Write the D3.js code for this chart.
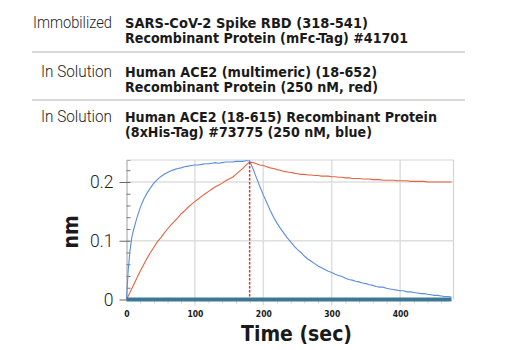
<!DOCTYPE html>
<html><head><meta charset="utf-8">
<script src="https://cdn.jsdelivr.net/npm/d3@7"></script>
<style>
html,body{margin:0;padding:0;background:#fff;}
svg{display:block;}
.lt{font-family:Roboto,"Liberation Sans",sans-serif;font-weight:300;fill:#1e1e1e;}
.bd{font-family:"Liberation Sans Narrow","DejaVu Sans Condensed","Roboto",sans-serif;font-weight:bold;fill:#1a1a1a;}
</style></head>
<body>
<script>
// ---------- data ----------
const headerLabels = ["Immobilized", "In Solution", "In Solution"];
const headerLines = [
  ["SARS-CoV-2 Spike RBD (318-541)", "Recombinant Protein (mFc-Tag) #41701"],
  ["Human ACE2 (multimeric) (18-652)", "Recombinant Protein (250 nM, red)"],
  ["Human ACE2 (18-615) Recombinant Protein", "(8xHis-Tag) #73775 (250 nM, blue)"]
];
const xTicks = [0, 100, 200, 300, 400];
const yTicks = [0, 0.1, 0.2];
const yTickLabels = ["0", "0.1", "0.2"];
const xLabel = "Time (sec)";
const yLabel = "nm";
const switchTime = 180;

const time = [0,2.5,5,7.5,10,15,20,25,30,35,40,45,50,55,60,65,70,75,80,85,90,95,100,105,110,115,120,125,130,135,140,145,150,155,160,165,170,175,180,
  185,190,195,200,205,210,215,220,225,230,235,240,245,250,255,260,265,270,275,280,285,290,295,300,305,310,315,320,325,330,335,340,345,350,355,360,365,370,375,380,385,390,395,400,405,410,415,420,425,430,435,440,445,450,455,460,465,470,475];

const blue = [0,0.050,0.082,0.104,0.117,0.138,0.156,0.170,0.181,0.190,0.198,0.204,0.209,0.213,0.216,0.219,0.221,0.223,0.224,0.226,0.227,0.228,0.229,0.229,0.230,0.231,0.231,0.232,0.233,0.232,0.233,0.234,0.234,0.234,0.235,0.235,0.235,0.236,0.236,
  0.222,0.207,0.192,0.178,0.165,0.152,0.140,0.130,0.121,0.113,0.105,0.098,0.091,0.085,0.080,0.074,0.069,0.065,0.061,0.057,0.054,0.051,0.048,0.046,0.043,0.041,0.039,0.036,0.034,0.033,0.031,0.030,0.028,0.027,0.025,0.024,0.022,0.021,0.021,0.019,0.018,0.017,0.016,0.015,0.015,0.013,0.013,0.012,0.011,0.010,0.010,0.009,0.008,0.007,0.007,0.006,0.005,0.005,0.004];

const red = [0,0.006,0.012,0.018,0.024,0.036,0.048,0.059,0.070,0.080,0.089,0.098,0.105,0.113,0.120,0.127,0.133,0.139,0.146,0.151,0.157,0.162,0.167,0.171,0.176,0.180,0.184,0.188,0.192,0.195,0.198,0.202,0.205,0.208,0.213,0.218,0.223,0.229,0.234,
  0.233,0.231,0.229,0.228,0.226,0.224,0.223,0.221,0.220,0.218,0.217,0.216,0.215,0.214,0.213,0.213,0.212,0.212,0.211,0.211,0.210,0.210,0.210,0.209,0.209,0.208,0.208,0.207,0.207,0.206,0.206,0.206,0.205,0.205,0.205,0.204,0.204,0.204,0.203,0.203,0.203,0.203,0.202,0.202,0.202,0.202,0.201,0.201,0.201,0.201,0.201,0.200,0.200,0.200,0.200,0.200,0.200,0.200,0.200];

const reference = time.map(() => 0);

// ---------- layout ----------
const W = 520, H = 350;
const svg = d3.select("body").append("svg").attr("width", W).attr("height", H);

const x = d3.scaleLinear().domain([0, 478]).range([126.5, 453.5]);
const y = d3.scaleLinear().domain([0, 0.2374]).range([299.5, 160]);

// ---------- header ----------
const rowBase = [28.3, 76.5, 122];
const labelW = [79, 71, 71];
const lineW = [[243, 283], [252, 253], [312, 247]];
headerLabels.forEach((lab, i) => {
  svg.append("text").attr("class", "lt").attr("x", 112).attr("y", rowBase[i])
    .attr("text-anchor", "end").style("font-size", "17px")
    .attr("textLength", labelW[i]).attr("lengthAdjust", "spacingAndGlyphs").text(lab);
  headerLines[i].forEach((ln, j) => {
    svg.append("text").attr("class", "bd").attr("x", 125).attr("y", rowBase[i] + j * 15)
      .style("font-size", "13.8px")
      .attr("textLength", lineW[i][j]).attr("lengthAdjust", "spacingAndGlyphs").text(ln);
  });
});
[52, 100].forEach(yy => {
  svg.append("line").attr("x1", 32).attr("x2", 465).attr("y1", yy).attr("y2", yy)
    .attr("stroke", "#b4b4b4").attr("stroke-width", 1.2);
});

// ---------- grid ----------
const g = svg.append("g");
g.selectAll(".vg").data(xTicks.filter(d => d > 0)).enter().append("line")
  .attr("x1", d => x(d)).attr("x2", d => x(d)).attr("y1", y.range()[1]).attr("y2", y(0) + 6)
  .attr("stroke", "#dedede").attr("stroke-width", 1.5);
g.selectAll(".hg").data(yTicks.filter(d => d > 0)).enter().append("line")
  .attr("x1", x(0)).attr("x2", x.range()[1]).attr("y1", d => y(d)).attr("y2", d => y(d))
  .attr("stroke", "#dedede").attr("stroke-width", 1.5);
// frame top/right
g.append("line").attr("x1", x(0)).attr("x2", x.range()[1]).attr("y1", y.range()[1]).attr("y2", y.range()[1])
  .attr("stroke", "#d4d4d4").attr("stroke-width", 1.2);
g.append("line").attr("x1", x.range()[1]).attr("x2", x.range()[1]).attr("y1", y.range()[1]).attr("y2", y(0))
  .attr("stroke", "#d4d4d4").attr("stroke-width", 1.2);

// ---------- axes ----------
const yMinor = d3.range(0.02, 0.235, 0.02).filter(v => Math.abs(v - 0.1) > 1e-6 && Math.abs(v - 0.2) > 1e-6);
const yAxisMinor = svg.append("g").attr("transform", `translate(${x(0)},0)`)
  .call(d3.axisLeft(y).tickValues(yMinor).tickSize(-4).tickFormat(""));
yAxisMinor.select(".domain").attr("stroke", "#b0b0b0").attr("stroke-width", 1.2);
yAxisMinor.selectAll(".tick line").attr("stroke", "#777").attr("stroke-width", 1);

const yAxis = svg.append("g").attr("transform", `translate(${x(0)},0)`)
  .call(d3.axisLeft(y).tickValues(yTicks).tickSize(6).tickPadding(8).tickFormat((d, i) => yTickLabels[i]));
yAxis.select(".domain").remove();
yAxis.selectAll(".tick line").attr("stroke", "#666").attr("stroke-width", 1).attr("x2", -7).attr("x1", 4);
yAxis.selectAll(".tick text").attr("class", "lt").style("font-size", "17.5px").attr("fill", "#1e1e1e").attr("x", -13);

const xMinor = d3.range(20, 478, 20).filter(v => v % 100 !== 0);
const xAxisMinor = svg.append("g").attr("transform", `translate(0,${y(0)})`)
  .call(d3.axisBottom(x).tickValues(xMinor).tickSize(4).tickFormat(""));
xAxisMinor.select(".domain").remove();
xAxisMinor.selectAll(".tick line").attr("stroke", "#cfcfcf").attr("stroke-width", 1);

const xAxis = svg.append("g").attr("transform", `translate(0,${y(0)})`)
  .call(d3.axisBottom(x).tickValues(xTicks).tickSize(0).tickPadding(11));
xAxis.select(".domain").remove();
xAxis.selectAll(".tick text").attr("class", "bd").style("font-size", "8.5px").attr("fill", "#222");

// ---------- curves ----------
const line = d3.line().x((d, i) => x(time[i])).y(d => y(d));
svg.append("path").datum(red).attr("d", line).attr("fill", "none")
  .attr("stroke", "#e4653f").attr("stroke-width", 1.1);
svg.append("path").datum(blue).attr("d", line).attr("fill", "none")
  .attr("stroke", "#5b8ddf").attr("stroke-width", 1.1);

// switch marker
svg.append("line").attr("x1", x(switchTime)).attr("x2", x(switchTime))
  .attr("y1", y(red[time.indexOf(switchTime)])).attr("y2", y(0))
  .attr("stroke", "#f0281e").attr("stroke-width", 1.5).attr("stroke-dasharray", "2.5,1.5");

// reference sensor (flat at 0)
svg.append("path").datum(reference).attr("d", line).attr("fill", "none")
  .attr("stroke", "#3c7893").attr("stroke-width", 4);

// ---------- axis titles ----------
svg.append("text").attr("class", "bd").attr("x", 296.5).attr("y", 341)
  .attr("text-anchor", "middle").style("font-size", "21px").attr("fill", "#1a1a1a").text(xLabel);
svg.append("text").attr("class", "bd").attr("transform", "translate(78,232) rotate(-90)")
  .attr("text-anchor", "middle").style("font-size", "21px").attr("fill", "#1a1a1a").text(yLabel);
</script>
</body></html>
